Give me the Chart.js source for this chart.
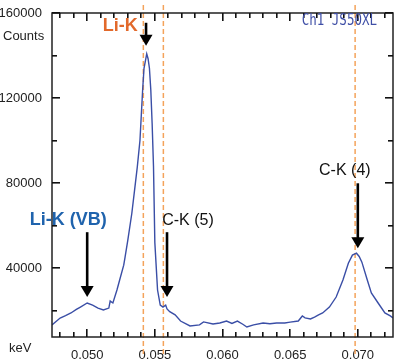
<!DOCTYPE html>
<html>
<head>
<meta charset="utf-8">
<script src="https://cdn.jsdelivr.net/npm/chart.js@4/dist/chart.umd.min.js"></script>
<style>
  html, body { margin: 0; padding: 0; background: #fff; }
  #wrap { width: 400px; height: 360px; }
</style>
</head>
<body>
<div id="wrap"><canvas id="spectrum"></canvas></div>
<script>
// Spectrum (energy in keV, counts)
const energy = [
  0.0474, 0.0480, 0.0484, 0.0488, 0.0492, 0.0495, 0.0500, 0.0504, 0.0508, 0.0512,
  0.0516, 0.0517, 0.0519, 0.0522, 0.0524, 0.0527, 0.0528, 0.0530, 0.0533, 0.0535,
  0.0537, 0.0539, 0.0540, 0.0541, 0.0542, 0.0544, 0.0545, 0.0546, 0.0547, 0.0548,
  0.0549, 0.0550, 0.0552, 0.0554, 0.0556, 0.0558, 0.0559, 0.0561, 0.0565, 0.0569,
  0.0576, 0.0583, 0.0586, 0.0593, 0.0598, 0.0603, 0.0607, 0.0611, 0.0615, 0.0618,
  0.0623, 0.0630, 0.0635, 0.0640, 0.0646, 0.0650, 0.0656, 0.0659, 0.0661, 0.0665,
  0.0668, 0.0671, 0.0674, 0.0679, 0.0684, 0.0689, 0.0693, 0.0696, 0.0699, 0.0701,
  0.0703, 0.0707, 0.0710, 0.0715, 0.0720, 0.0724, 0.0726
];
const counts = [
  13300, 16500, 17600, 18900, 20600, 21700, 23600, 22600, 21200, 20300,
  21200, 24500, 23600, 29700, 34400, 41400, 45200, 53100, 65800, 76600,
  87400, 100000, 112000, 124000, 134000, 140800, 138500, 134000, 124000, 108000,
  88000, 52000, 29700, 22600, 21700, 22600, 20800, 19500, 18000, 15100,
  12800, 13300, 14700, 13700, 14200, 15100, 14000, 15100, 13600, 12300,
  13300, 14200, 13800, 14200, 14200, 14600, 15100, 17500, 16600, 16100,
  17000, 18000, 18900, 21700, 26400, 34400, 42300, 46100, 47000, 45500,
  42800, 34400, 28300, 23600, 18900, 17500, 16600
];

// Axis ticks: labelled majors and all tick positions
const xMajor = ['0.050', '0.055', '0.060', '0.065', '0.070'];
const xTicks = [48, 49, 50, 51, 52, 53, 54, 55, 56, 57, 58, 59, 60,
                61, 62, 63, 64, 65, 66, 67, 68, 69, 70, 71, 72].map(m => m / 1000);
const yMajor = [40000, 80000, 120000, 160000];
const yTicks = [20000, 40000, 60000, 80000, 100000, 120000, 140000, 160000];

// Reference lines (keV)
const markerLines = [0.05415, 0.05563, 0.0698];

// Peak labels with arrows: text position and arrow start/tip, in data units
const peakNames = ['Li-K', 'Li-K (VB)', 'C-K (5)', 'C-K (4)'];
const peakTextX = [0.05244, 0.0486, 0.05745, 0.06904];
const peakTextY = [154000, 62500, 62500, 86000];
const arrowX = [0.05435, 0.0500, 0.0559, 0.0700];
const arrowFrom = [155400, 56900, 56900, 79900];
const arrowTo = [144600, 26400, 26400, 49400];
const peakColors = ['#e2692b', '#1f63ad', '#111', '#111'];
const peakFonts = ['bold 18px "Liberation Sans"', 'bold 18px "Liberation Sans"',
                   '16px "Liberation Sans"', '16px "Liberation Sans"'];

const isMajorX = v => xMajor.includes(v.toFixed(3));
const isMajorY = v => yMajor.includes(Math.round(v));

function seg(ctx, x1, y1, x2, y2) {
    ctx.beginPath();
    ctx.moveTo(x1, y1);
    ctx.lineTo(x2, y2);
    ctx.stroke();
}

// dashed orange guide lines, drawn under the curve
const guides = {
    id: 'guides',
    beforeDatasetsDraw(chart) {
        const { ctx, chartArea: a, scales: { x } } = chart;
        ctx.save();
        ctx.strokeStyle = '#f4a35b';
        ctx.lineWidth = 1.5;
        ctx.setLineDash([5, 3]);
        markerLines.forEach(v => {
            const px = x.getPixelForValue(v);
            seg(ctx, px, a.top - 8, px, a.bottom + 18);
        });
        ctx.restore();
    }
};

// frame, inward tick marks, titles, arrows and labels
const overlay = {
    id: 'overlay',
    afterDraw(chart) {
        const { ctx, chartArea: a, scales: { x, y } } = chart;
        ctx.save();
        ctx.setLineDash([]);
        ctx.strokeStyle = '#222';
        ctx.lineWidth = 1.5;
        ctx.strokeRect(a.left, a.top, a.right - a.left, a.bottom - a.top);

        // tick marks, all pointing into the plot
        ctx.fillStyle = '#111';
        xTicks.forEach(v => {
            const px = Math.round(x.getPixelForValue(v));
            const len = isMajorX(v) ? 8 : 5;
            ctx.fillRect(px - 1, a.bottom - len, 1.6, len);
            ctx.fillRect(px - 1, a.top, 1.6, len);
        });
        yTicks.forEach(v => {
            const py = Math.round(y.getPixelForValue(v));
            const len = isMajorY(v) ? 8 : 5;
            ctx.fillRect(a.left, py - 1, len, 1.6);
            ctx.fillRect(a.right - len, py - 1, len, 1.6);
        });

        ctx.fillStyle = '#222';
        ctx.font = '13px "Liberation Sans"';
        ctx.textBaseline = 'middle';
        ctx.textAlign = 'left';
        ctx.fillText('Counts', 3, 36);
        ctx.fillText('keV', 9, a.bottom + 11);

        // channel tag, narrow and tall
        ctx.save();
        ctx.fillStyle = '#3f4fa6';
        ctx.font = '12.5px "DejaVu Sans Mono"';
        ctx.textAlign = 'right';
        ctx.translate(a.right - 16, a.top + 8);
        ctx.scale(1, 1.3);
        ctx.fillText('Ch1 JS50XL', 0, 0);
        ctx.restore();

        // arrows
        ctx.fillStyle = '#000';
        ctx.strokeStyle = '#000';
        ctx.lineWidth = 2.6;
        arrowX.forEach((v, i) => {
            const px = x.getPixelForValue(v);
            const y1 = y.getPixelForValue(arrowFrom[i]);
            const y2 = y.getPixelForValue(arrowTo[i]);
            seg(ctx, px, y1, px, y2 - 9);
            ctx.beginPath();
            ctx.moveTo(px - 6.5, y2 - 11);
            ctx.lineTo(px + 6.5, y2 - 11);
            ctx.lineTo(px, y2);
            ctx.closePath();
            ctx.fill();
        });

        // peak labels
        ctx.textAlign = 'center';
        peakNames.forEach((name, i) => {
            ctx.fillStyle = peakColors[i];
            ctx.font = peakFonts[i];
            ctx.fillText(name, x.getPixelForValue(peakTextX[i]), y.getPixelForValue(peakTextY[i]));
        });
        ctx.restore();
    }
};

function initChart() {
    const ctx = document.getElementById('spectrum').getContext('2d');
    const tickFont = { family: '"Liberation Sans"', size: 13 };

    new Chart(ctx, {
        type: 'line',
        data: {
            datasets: [{
                data: energy.map((e, i) => ({ x: e, y: counts[i] })),
                borderColor: '#3a4ea6',
                borderWidth: 1.4,
                pointRadius: 0,
                tension: 0,
                fill: false
            }]
        },
        options: {
            responsive: true,
            maintainAspectRatio: false,
            animation: false,
            layout: { padding: { top: 13, right: 7, left: 0, bottom: 0 } },
            plugins: {
                legend: { display: false },
                tooltip: { enabled: false }
            },
            scales: {
                x: {
                    type: 'linear',
                    min: 0.0474,
                    max: 0.0726,
                    grid: { display: false },
                    border: { display: false },
                    afterFit: s => { s.height = 23; },
                    afterBuildTicks: s => { s.ticks = xMajor.map(t => ({ value: parseFloat(t) })); },
                    ticks: {
                        autoSkip: false,
                        maxRotation: 0,
                        padding: 3,
                        color: '#222',
                        font: tickFont,
                        callback: v => v.toFixed(3)
                    }
                },
                y: {
                    min: 7600,
                    max: 160000,
                    grid: { display: false },
                    border: { display: false },
                    afterFit: s => { s.width = 52; },
                    afterBuildTicks: s => { s.ticks = yMajor.map(v => ({ value: v })); },
                    ticks: {
                        autoSkip: false,
                        padding: 2,
                        color: '#222',
                        font: tickFont,
                        callback: v => String(v)
                    }
                }
            }
        },
        plugins: [guides, overlay]
    });
}

document.addEventListener('DOMContentLoaded', initChart);
</script>
</body>
</html>
